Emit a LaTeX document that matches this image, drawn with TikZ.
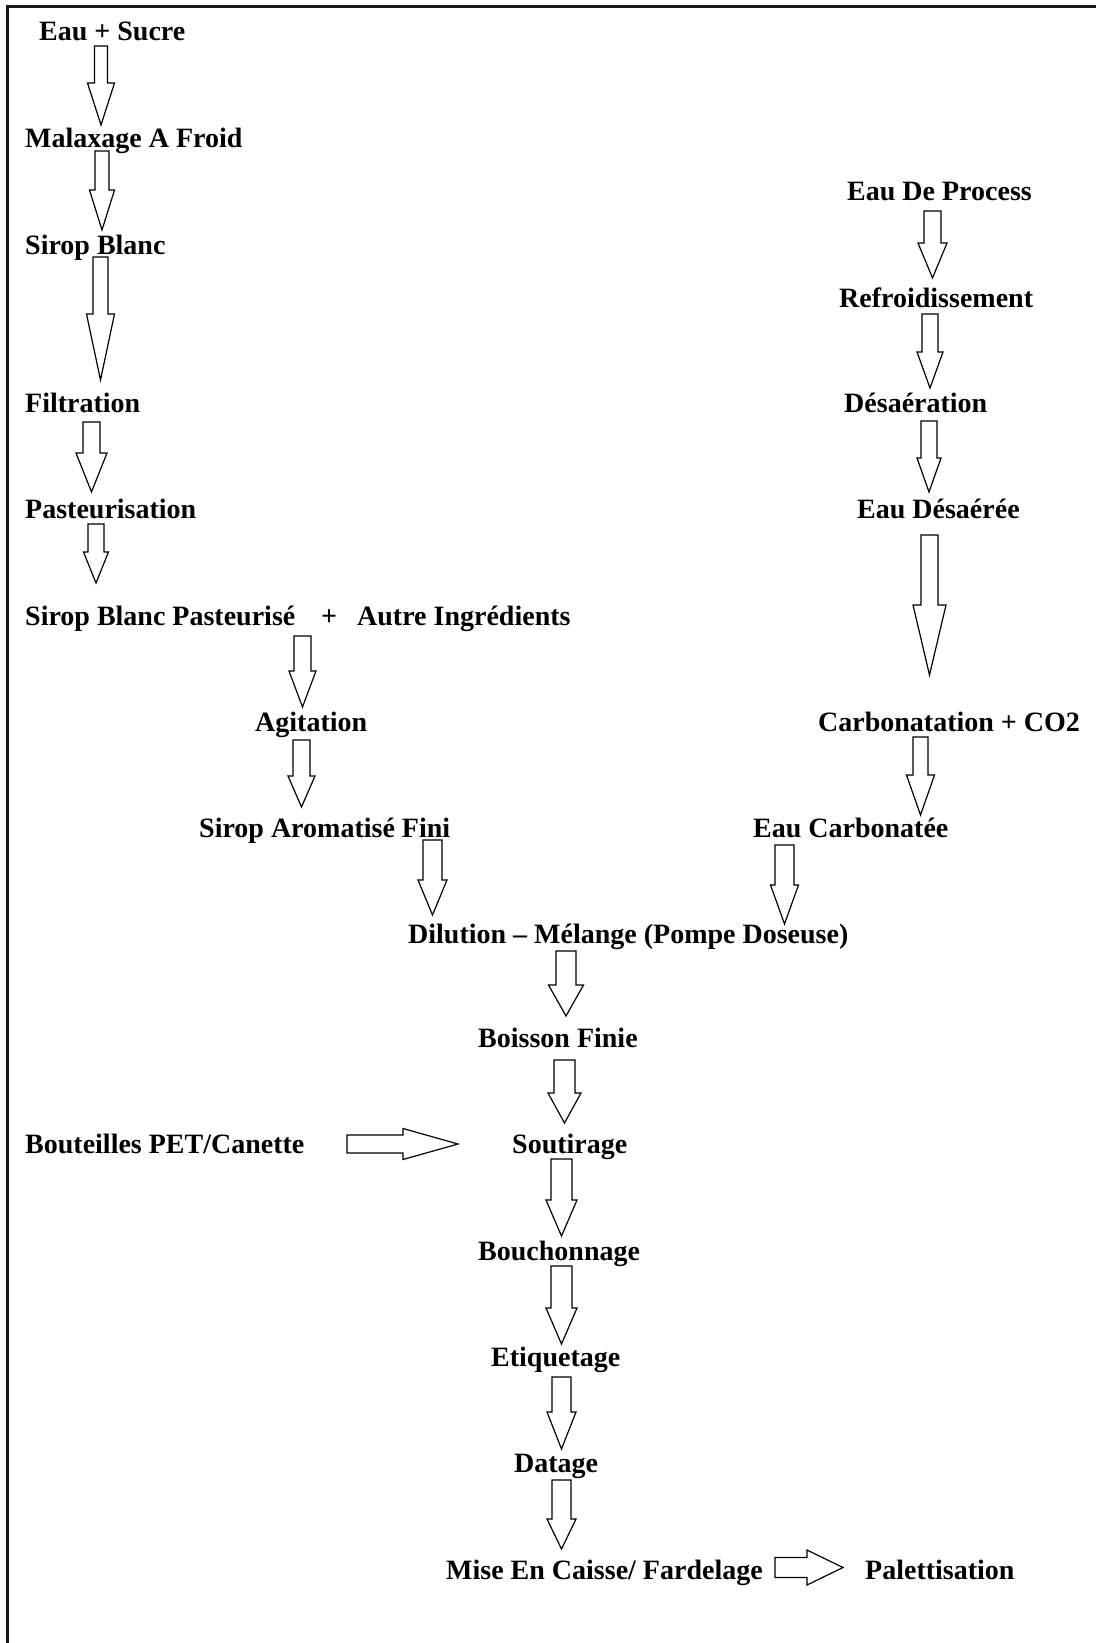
\documentclass[tikz,border=0pt]{standalone}
\usepackage{fontspec}
\setmainfont{Liberation Serif}
\usetikzlibrary{calc}
\tikzset{
  lbl/.style={anchor=base west, inner sep=0pt, font=\bfseries\fontsize{28}{33}\selectfont, text=black, yshift=-2pt},
  blockarrow/.style={draw=black, fill=white, line width=1.2pt, line join=miter},
  frameline/.style={draw=black!90, line width=2.2pt}
}
% down block arrow: #1 start coord, #2 tip coord, #3 shaft half width, #4 head half width, #5 head length
\newcommand\blockdown[5]{%
  \draw[blockarrow] let \p1=(#1), \p2=(#2) in
    (\x1-#3pt,\y1) -- (\x1+#3pt,\y1) -- (\x1+#3pt,\y2+#5pt) -- (\x1+#4pt,\y2+#5pt)
    -- (\x2,\y2) -- (\x1-#4pt,\y2+#5pt) -- (\x1-#3pt,\y2+#5pt) -- cycle;}
% right block arrow
\newcommand\blockright[5]{%
  \draw[blockarrow] let \p1=(#1), \p2=(#2) in
    (\x1,\y1+#3pt) -- (\x2-#5pt,\y1+#3pt) -- (\x2-#5pt,\y1+#4pt) -- (\x2,\y2)
    -- (\x2-#5pt,\y1-#4pt) -- (\x2-#5pt,\y1-#3pt) -- (\x1,\y1-#3pt) -- cycle;}
\begin{document}
\begin{tikzpicture}[x=1pt,y=-1pt]
\useasboundingbox (0,0) rectangle (1096,1643);
\fill[white] (0,0) rectangle (1096,1643);
\draw[frameline] (7.5,1643) -- (7.5,6.5) -- (1096,6.5);

% left column
\node[lbl] (eausucre) at (39,39) {Eau + Sucre};
\node[lbl] (malax) at (25,145) {Malaxage A Froid};
\node[lbl] (sirop) at (25,252) {Sirop Blanc};
\node[lbl] (filtr) at (25,410) {Filtration};
\node[lbl] (past) at (25,516) {Pasteurisation};
\node[lbl] (sbp) at (25,623) {Sirop Blanc Pasteurisé};
\node[lbl, anchor=base] (plus) at (329,623) {+};
\node[lbl] (autre) at (357,623) {Autre Ingrédients};
\node[lbl] (agit) at (255,729) {Agitation};
\node[lbl] (saf) at (199,835) {Sirop Aromatisé Fini};
\node[lbl] (dilu) at (408,941) {Dilution – Mélange (Pompe Doseuse)};
\node[lbl] (boisson) at (478,1045) {Boisson Finie};
\node[lbl] (bout) at (25,1151) {Bouteilles PET/Canette};
\node[lbl] (sout) at (512,1151) {Soutirage};
\node[lbl] (bouch) at (478,1258) {Bouchonnage};
\node[lbl] (etiq) at (491,1364) {Etiquetage};
\node[lbl] (datage) at (514,1470) {Datage};
\node[lbl] (mise) at (446,1577) {Mise En Caisse/ Fardelage};
\node[lbl] (palet) at (865,1577) {Palettisation};

% right column
\node[lbl] (process) at (847,198) {Eau De Process};
\node[lbl] (refr) at (839,305) {Refroidissement};
\node[lbl] (desa) at (844,410) {Désaération};
\node[lbl] (eaudesa) at (857,516) {Eau Désaérée};
\node[lbl] (carbo) at (818,729) {Carbonatation + CO2};
\node[lbl] (eaucarb) at (753,835) {Eau Carbonatée};

% arrow end points
\coordinate (a1s) at (101,46);    \coordinate (a1e) at (101,125);
\coordinate (a2s) at (102,151);   \coordinate (a2e) at (102,230);
\coordinate (a3s) at (100.5,257); \coordinate (a3e) at (100.5,380);
\coordinate (a4s) at (91.5,422);  \coordinate (a4e) at (91.5,492);
\coordinate (a5s) at (96,524);    \coordinate (a5e) at (96,583);
\coordinate (a6s) at (302.5,636); \coordinate (a6e) at (302.5,707);
\coordinate (a7s) at (301.5,740); \coordinate (a7e) at (301.5,807);
\coordinate (a8s) at (432.5,840); \coordinate (a8e) at (432.5,915);
\coordinate (a9s) at (784.5,845); \coordinate (a9e) at (784.5,924);
\coordinate (a10s) at (566,951);  \coordinate (a10e) at (566,1016);
\coordinate (a11s) at (564.5,1060); \coordinate (a11e) at (564.5,1123);
\coordinate (a12s) at (561.5,1159); \coordinate (a12e) at (561.5,1236);
\coordinate (a13s) at (561.5,1266); \coordinate (a13e) at (561.5,1344);
\coordinate (a14s) at (561.5,1377); \coordinate (a14e) at (561.5,1449);
\coordinate (a15s) at (561.5,1480); \coordinate (a15e) at (561.5,1549);
\coordinate (b1s) at (932.5,211); \coordinate (b1e) at (932.5,278);
\coordinate (b2s) at (930,314);   \coordinate (b2e) at (930,388);
\coordinate (b3s) at (929,421);   \coordinate (b3e) at (929,492);
\coordinate (b4s) at (929.5,535); \coordinate (b4e) at (929.5,675);
\coordinate (b5s) at (920.5,737); \coordinate (b5e) at (920.5,815);
\coordinate (h1s) at (347,1144);  \coordinate (h1e) at (458,1144);
\coordinate (h2s) at (775,1567.5); \coordinate (h2e) at (843,1567.5);

% arrows
\blockdown{a1s}{a1e}{6.5}{13.5}{42}
\blockdown{a2s}{a2e}{7}{12.5}{40}
\blockdown{a3s}{a3e}{7.5}{14}{66}
\blockdown{a4s}{a4e}{8.5}{15.5}{39}
\blockdown{a5s}{a5e}{8}{12.5}{31}
\blockdown{a6s}{a6e}{8.5}{13.5}{36}
\blockdown{a7s}{a7e}{8.5}{13.5}{31}
\blockdown{a8s}{a8e}{9.5}{14.5}{35}
\blockdown{a9s}{a9e}{9.5}{14}{39}
\blockdown{a10s}{a10e}{10}{17.5}{31}
\blockdown{a11s}{a11e}{10.5}{16.5}{30}
\blockdown{a12s}{a12e}{10.5}{15.5}{36}
\blockdown{a13s}{a13e}{10.5}{15.5}{36}
\blockdown{a14s}{a14e}{9.5}{14.5}{37}
\blockdown{a15s}{a15e}{9.5}{14.5}{30}
\blockdown{b1s}{b1e}{8.5}{14.5}{35}
\blockdown{b2s}{b2e}{8}{13}{36}
\blockdown{b3s}{b3e}{8}{12}{34}
\blockdown{b4s}{b4e}{8.5}{16.5}{70}
\blockdown{b5s}{b5e}{7.5}{14}{40}
\blockright{h1s}{h1e}{9}{15.5}{55}
\blockright{h2s}{h2e}{10}{17.5}{36}
\end{tikzpicture}
\end{document}
